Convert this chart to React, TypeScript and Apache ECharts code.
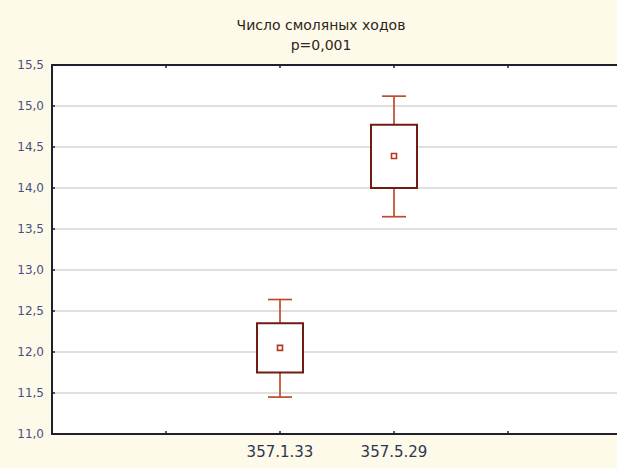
import React, { useEffect, useRef } from "react";
import * as echarts from "echarts";

const xCategories = ["", "", "357.1.33", "357.5.29", "", ""];
const groups = ["357.1.33", "357.5.29"];
const whiskerLow = [11.45, 13.65];
const boxLow = [11.75, 14.0];
const means = [12.05, 14.39];
const boxHigh = [12.35, 14.77];
const whiskerHigh = [12.64, 15.12];
const yTicks = { min: 11, max: 15.5, step: 0.5 };
const titleLines = ["Число смоляных ходов", "p=0,001"];

export default function App() {
  const ref = useRef<HTMLDivElement>(null);
  useEffect(() => {
    if (!ref.current) return;
    const chart = echarts.init(ref.current, undefined, { renderer: "svg" });
    const data = groups.map((g, i) => [
      xCategories.indexOf(g),
      whiskerLow[i],
      boxLow[i],
      means[i],
      boxHigh[i],
      whiskerHigh[i],
    ]);
    const axisColor = "#1f1f2e";
    chart.setOption({
      animation: false,
      backgroundColor: "#FEFAEA",
      title: {
        text: titleLines.join("\n"),
        left: 316,
        top: 10,
        textAlign: "center",
        textStyle: {
          fontFamily: "DejaVu Sans",
          fontSize: 14,
          fontWeight: "normal",
          color: "#2e2420",
          lineHeight: 20,
        },
      },
      grid: {
        left: 52,
        width: 570,
        top: 65,
        bottom: 34,
        show: true,
        backgroundColor: "#ffffff",
        borderWidth: 0,
        outerBoundsMode: "none",
        containLabel: false,
      },
      xAxis: [
        {
          type: "category",
          data: xCategories,
          boundaryGap: false,
          position: "bottom",
          axisLine: { lineStyle: { color: axisColor, width: 2 } },
          axisTick: { inside: true, length: 3, lineStyle: { color: axisColor, width: 1.5 } },
          axisLabel: {
            interval: 0,
            fontFamily: "DejaVu Sans",
            fontSize: 15,
            color: "#2f3550",
            margin: 10,
          },
          splitLine: { show: false },
        },
        {
          type: "category",
          data: xCategories,
          boundaryGap: false,
          position: "top",
          axisLine: { lineStyle: { color: axisColor, width: 2 } },
          axisTick: { inside: true, length: 3, lineStyle: { color: axisColor, width: 1.5 } },
          axisLabel: { show: false },
          splitLine: { show: false },
        },
      ],
      yAxis: {
        type: "value",
        min: yTicks.min,
        max: yTicks.max,
        interval: yTicks.step,
        axisLine: { show: true, lineStyle: { color: axisColor, width: 2 } },
        axisTick: { show: true, inside: true, length: 3, lineStyle: { color: axisColor, width: 1.5 } },
        axisLabel: {
          fontFamily: "DejaVu Sans",
          fontSize: 12,
          color: "#4a5080",
          margin: 8,
          formatter: (v: number) => v.toFixed(1).replace(".", ","),
        },
        splitLine: { show: true, lineStyle: { color: "#d6d6d6", width: 1.5 } },
      },
      series: [
        {
          type: "custom",
          xAxisIndex: 0,
          data,
          encode: { x: 0, y: [1, 2, 3, 4, 5] },
          renderItem: (params: any, api: any) => {
            const x = api.value(0);
            const pWL = api.coord([x, api.value(1)]);
            const pBL = api.coord([x, api.value(2)]);
            const pM = api.coord([x, api.value(3)]);
            const pBH = api.coord([x, api.value(4)]);
            const pWH = api.coord([x, api.value(5)]);
            const cx = pM[0];
            const boxW = 46;
            const capW = 24;
            const whiskerStyle = { stroke: "#bf4a2f", lineWidth: 1.7 };
            return {
              type: "group",
              children: [
                { type: "line", shape: { x1: cx, y1: pWH[1], x2: cx, y2: pBH[1] }, style: whiskerStyle },
                { type: "line", shape: { x1: cx, y1: pBL[1], x2: cx, y2: pWL[1] }, style: whiskerStyle },
                { type: "line", shape: { x1: cx - capW / 2, y1: pWH[1], x2: cx + capW / 2, y2: pWH[1] }, style: whiskerStyle },
                { type: "line", shape: { x1: cx - capW / 2, y1: pWL[1], x2: cx + capW / 2, y2: pWL[1] }, style: whiskerStyle },
                {
                  type: "rect",
                  shape: { x: cx - boxW / 2, y: pBH[1], width: boxW, height: pBL[1] - pBH[1] },
                  style: { fill: "#ffffff", stroke: "#6e1c14", lineWidth: 2 },
                },
                {
                  type: "rect",
                  shape: { x: cx - 2.5, y: pM[1] - 2.5, width: 5, height: 5 },
                  style: { fill: "#ffffff", stroke: "#b5391e", lineWidth: 1.6 },
                },
              ],
            };
          },
        },
      ],
    });
    return () => chart.dispose();
  }, []);
  return (
    <div
      ref={ref}
      style={{ position: "fixed", left: 0, top: 0, width: 617, height: 468 }}
    />
  );
}
